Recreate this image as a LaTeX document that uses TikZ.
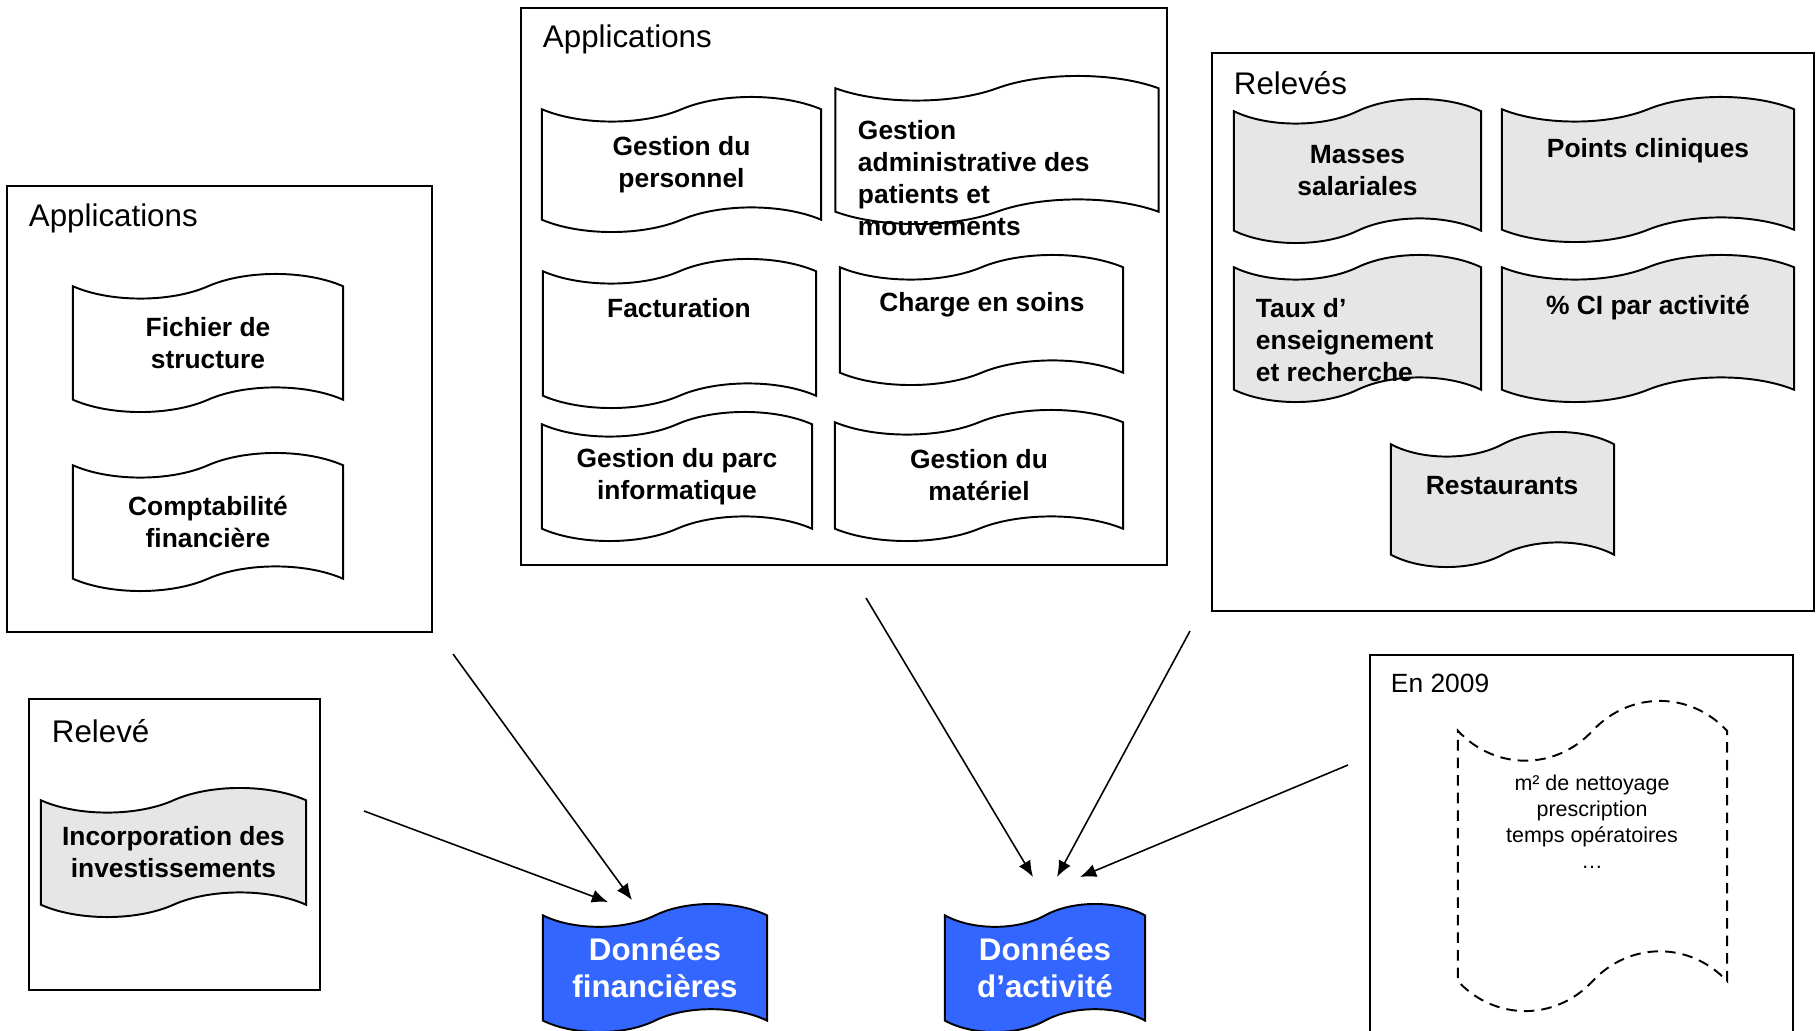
\documentclass[tikz,border=0pt]{standalone}
\usepackage{fontspec}
\setmainfont{Liberation Sans}
\usepackage{tikz}
\usetikzlibrary{shapes.symbols,arrows.meta}

\definecolor{bleu}{RGB}{51,102,255}
\definecolor{gris}{RGB}{230,230,230}

\begin{document}
\begin{tikzpicture}[x=0.01cm,y=-0.01cm,line width=0.55pt,>={Latex[length=4.6pt,width=3.8pt]}]
		\tikzstyle{boite}=[draw,rectangle,inner sep=0pt]
		\tikzstyle{titre}=[anchor=west,inner sep=0pt,font=\fontsize{8.9}{10.7}\selectfont]
		\tikzstyle{ruban}=[draw,shape=tape,tape bend top=in and out,tape bend bottom=in and out,tape bend height=7pt,inner sep=0pt,align=center,font=\bfseries\fontsize{7.5}{9.1}\selectfont]
		\tikzstyle{releve}=[ruban,fill=gris]
		\tikzstyle{donnees}=[ruban,fill=bleu,text=white,tape bend height=6.5pt,font=\bfseries\fontsize{8.9}{10.6}\selectfont]
		\tikzstyle{txt}=[inner sep=0pt,align=center,font=\bfseries\fontsize{7.5}{9.1}\selectfont]

		\clip (0,0) rectangle (1816,1031);

		\node[boite,minimum width=4.25cm,minimum height=4.46cm](appG) at (219.5,409){};
		\node[titre](appGT) at (28,218){Applications};
		\node[ruban,minimum width=2.70cm,minimum height=1.38cm](fichier) at (208,343){Fichier de\\structure};
		\node[ruban,minimum width=2.70cm,minimum height=1.38cm](compta) at (208,522){Comptabilité\\financière};

		\node[boite,minimum width=6.46cm,minimum height=5.57cm](appC) at (844,286.5){};
		\node[titre](appCT) at (542,39){Applications};
		\node[ruban,minimum width=2.79cm,minimum height=1.35cm](perso) at (681.5,164.5){Gestion du\\personnel};
		\node[ruban,minimum width=3.23cm,minimum height=1.48cm](patients) at (997,150){};
		\node[txt,anchor=west,align=left](patientsT) at (857,178.5){Gestion\\administrative des\\patients et\\mouvements};
		\node[ruban,minimum width=2.73cm,minimum height=1.49cm](factu) at (679.5,333.5){};
		\node[txt](factuT) at (679,308){Facturation};
		\node[ruban,minimum width=2.83cm,minimum height=1.30cm](soins) at (981.5,320){};
		\node[txt](soinsT) at (982,305){Charge en soins};
		\node[ruban,minimum width=2.70cm,minimum height=1.29cm](parc) at (677,476.5){Gestion du parc\\informatique};
		\node[ruban,minimum width=2.88cm,minimum height=1.31cm](materiel) at (979,475.5){Gestion du\\matériel};

		\node[boite,minimum width=6.02cm,minimum height=5.58cm](relS) at (1513,332){};
		\node[titre](relST) at (1233,83){Relevés};
		\node[releve,minimum width=2.47cm,minimum height=1.44cm](masses) at (1357.5,171){Masses\\salariales};
		\node[releve,minimum width=2.92cm,minimum height=1.45cm](points) at (1648,169.5){};
		\node[txt](pointsT) at (1648,151){Points cliniques};
		\node[releve,minimum width=2.47cm,minimum height=1.47cm](taux) at (1357.5,328.5){};
		\node[txt,anchor=west,align=left](tauxT) at (1255,340){Taux d’\\enseignement\\et recherche};
		\node[releve,minimum width=2.92cm,minimum height=1.47cm](ci) at (1648,328.5){};
		\node[txt](ciT) at (1648,308){\% CI par activité};
		\node[releve,minimum width=2.23cm,minimum height=1.35cm](resto) at (1502.5,499.5){};
		\node[txt](restoT) at (1502,486){Restaurants};

		\node[boite,minimum width=2.91cm,minimum height=2.91cm](relv) at (174.5,844.5){};
		\node[titre](relvT) at (51,731){Relevé};
		\node[releve,minimum width=2.65cm,minimum height=1.29cm](incorp) at (173.5,852.5){Incorporation des\\investissements};

		\node[boite,minimum width=4.23cm,minimum height=3.90cm](en09) at (1581.5,850){};
		\node[titre,font=\fontsize{7.5}{9}\selectfont](en09T) at (1390,683){En 2009};
		\node[ruban,dashed,dash pattern=on 3pt off 2pt,tape bend height=17pt,minimum width=2.69cm,minimum height=3.10cm](futur) at (1592.5,856){};
		\node[inner sep=0pt,align=center,font=\fontsize{6.1}{7.4}\selectfont](futurT) at (1592,822){m² de nettoyage\\prescription\\temps opératoires\\…};

		\node[donnees,minimum width=2.24cm,minimum height=1.28cm](fin) at (655,968){Données\\financières};
		\node[donnees,minimum width=2.00cm,minimum height=1.28cm](act) at (1045,968){Données\\d’activité};

		\coordinate (d1) at (453,654);
		\coordinate (f1) at (632,900);
		\coordinate (d2) at (364,811);
		\coordinate (f2) at (608,902);
		\coordinate (d3) at (866,598);
		\coordinate (f3) at (1033,877);
		\coordinate (d4) at (1190,631);
		\coordinate (f4) at (1057,877);
		\coordinate (d5) at (1348,765);
		\coordinate (f5) at (1080,877);
		\draw[->,line width=0.45pt] (d1) -- (f1);
		\draw[->,line width=0.45pt] (d2) -- (f2);
		\draw[->,line width=0.45pt] (d3) -- (f3);
		\draw[->,line width=0.45pt] (d4) -- (f4);
		\draw[->,line width=0.45pt] (d5) -- (f5);
	\end{tikzpicture}
\end{document}
